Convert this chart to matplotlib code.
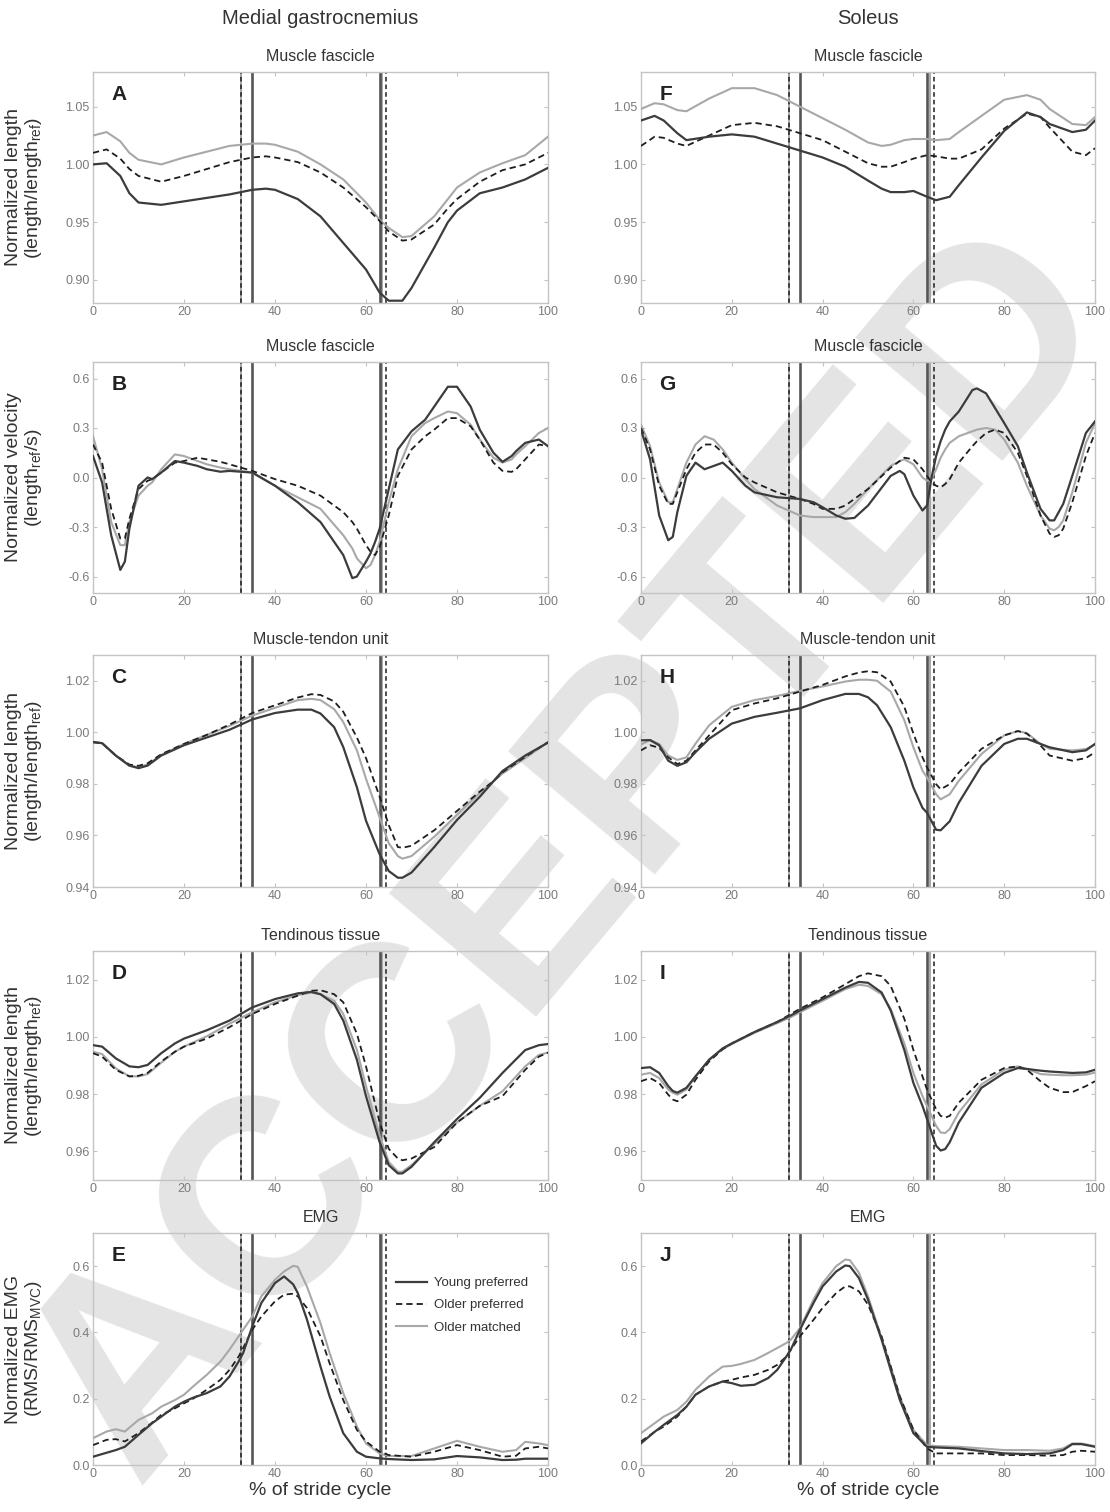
import matplotlib
matplotlib.use("Agg")
import matplotlib.pyplot as plt
from matplotlib.ticker import FormatStrFormatter, FixedLocator

plt.rcParams['font.family'] = ['Liberation Sans', 'DejaVu Sans']
plt.rcParams['axes.unicode_minus'] = False

# ---------------- data (% of stride cycle vs value) ----------------
A_x = [0,3,6,8,10,15,20,25,30,35,38,40,45,50,55,60,63,65,68,70,75,78,80,85,90,95,100]
A_young = [1.000,1.001,0.990,0.975,0.967,0.965,0.968,0.971,0.974,0.978,0.979,0.978,0.970,0.955,0.932,0.909,0.889,0.882,0.882,0.893,0.928,0.950,0.960,0.975,0.980,0.987,0.997]
A_older = [1.010,1.013,1.005,0.996,0.990,0.985,0.990,0.996,1.002,1.006,1.007,1.006,1.002,0.993,0.980,0.963,0.951,0.942,0.934,0.935,0.948,0.962,0.970,0.985,0.995,1.000,1.010]
A_matched = [1.025,1.028,1.020,1.010,1.004,1.000,1.006,1.011,1.016,1.018,1.018,1.017,1.011,1.000,0.987,0.967,0.952,0.945,0.937,0.938,0.955,0.970,0.980,0.993,1.001,1.008,1.024]

F_x = [0,3,5,8,10,15,20,25,30,35,40,45,50,53,55,58,60,63,65,68,70,75,80,85,88,90,95,98,100]
F_young = [1.038,1.042,1.038,1.027,1.021,1.024,1.026,1.024,1.018,1.012,1.006,0.998,0.986,0.979,0.976,0.976,0.977,0.972,0.969,0.972,0.982,1.006,1.029,1.045,1.041,1.035,1.028,1.030,1.038]
F_older = [1.016,1.024,1.023,1.018,1.016,1.025,1.034,1.036,1.033,1.027,1.021,1.011,1.001,0.998,0.998,1.002,1.005,1.008,1.007,1.005,1.005,1.013,1.031,1.044,1.041,1.032,1.011,1.008,1.014]
F_matched = [1.048,1.053,1.052,1.047,1.046,1.057,1.066,1.066,1.060,1.050,1.040,1.030,1.019,1.016,1.017,1.021,1.022,1.022,1.021,1.022,1.028,1.042,1.056,1.060,1.056,1.048,1.035,1.034,1.041]

B_x = [0,2,4,6,7,8,10,12,13,15,18,20,23,25,28,30,35,40,45,50,55,57,58,60,61,62,63,65,67,70,73,75,78,80,83,85,88,90,92,93,95,98,100]
B_young = [0.13,-0.03,-0.35,-0.56,-0.51,-0.31,-0.05,0.00,-0.01,0.03,0.10,0.09,0.07,0.05,0.035,0.04,0.03,-0.05,-0.15,-0.27,-0.47,-0.61,-0.60,-0.51,-0.46,-0.39,-0.31,-0.07,0.17,0.28,0.35,0.43,0.55,0.55,0.43,0.29,0.15,0.095,0.13,0.16,0.21,0.23,0.19]
B_older = [0.20,0.09,-0.19,-0.37,-0.37,-0.25,-0.07,-0.02,-0.01,0.03,0.09,0.10,0.12,0.11,0.095,0.08,0.04,-0.01,-0.05,-0.11,-0.21,-0.27,-0.31,-0.41,-0.45,-0.47,-0.42,-0.23,0.01,0.17,0.25,0.29,0.36,0.36,0.31,0.23,0.09,0.04,0.034,0.05,0.11,0.20,0.19]
B_matched = [0.25,0.05,-0.27,-0.41,-0.41,-0.27,-0.11,-0.05,-0.03,0.05,0.14,0.13,0.10,0.08,0.06,0.05,0.03,-0.05,-0.12,-0.19,-0.35,-0.43,-0.49,-0.55,-0.53,-0.47,-0.39,-0.15,0.05,0.25,0.33,0.36,0.40,0.39,0.32,0.23,0.12,0.09,0.11,0.14,0.19,0.27,0.30]

G_x = [0,2,4,6,7,8,10,12,14,16,18,20,23,25,30,35,38,40,43,45,47,50,55,57,58,60,62,63,64,65,66,67,68,70,73,74,76,78,80,83,85,88,90,91,92,93,95,98,100]
G_young = [0.29,0.11,-0.23,-0.38,-0.36,-0.21,0.01,0.09,0.05,0.07,0.09,0.04,-0.05,-0.09,-0.12,-0.13,-0.15,-0.18,-0.23,-0.25,-0.245,-0.17,0.01,0.04,0.02,-0.11,-0.20,-0.17,0.00,0.13,0.22,0.29,0.34,0.40,0.53,0.54,0.51,0.42,0.33,0.19,0.03,-0.19,-0.26,-0.26,-0.21,-0.16,0.01,0.27,0.34]
G_older = [0.30,0.17,-0.05,-0.16,-0.16,-0.09,0.05,0.15,0.20,0.20,0.15,0.08,0.00,-0.03,-0.09,-0.13,-0.16,-0.19,-0.19,-0.17,-0.13,-0.07,0.06,0.10,0.12,0.11,0.05,0.01,-0.03,-0.05,-0.06,-0.04,-0.01,0.09,0.19,0.22,0.27,0.29,0.27,0.15,0.01,-0.23,-0.34,-0.36,-0.35,-0.31,-0.15,0.13,0.27]
G_matched = [0.32,0.19,-0.03,-0.15,-0.15,-0.07,0.09,0.20,0.25,0.23,0.17,0.09,-0.01,-0.07,-0.17,-0.23,-0.24,-0.24,-0.24,-0.21,-0.16,-0.07,0.07,0.10,0.11,0.08,0.00,-0.02,-0.01,0.05,0.12,0.17,0.21,0.25,0.28,0.29,0.30,0.29,0.23,0.09,-0.05,-0.23,-0.31,-0.32,-0.30,-0.26,-0.09,0.21,0.33]

C_x = [0,2,5,8,10,12,15,20,25,30,35,40,45,48,50,53,55,58,60,62,63,65,67,68,70,75,80,85,88,90,95,100]
C_young = [0.9962,0.9958,0.991,0.9871,0.9861,0.9871,0.991,0.995,0.998,1.001,1.005,1.0075,1.0088,1.0088,1.0073,1.002,0.9943,0.9787,0.9657,0.957,0.9527,0.9462,0.9436,0.9436,0.9456,0.9555,0.966,0.975,0.981,0.985,0.991,0.996]
C_older = [0.9962,0.9958,0.991,0.9875,0.987,0.988,0.9915,0.9955,0.999,1.003,1.0075,1.0105,1.0135,1.0148,1.0145,1.012,1.008,0.998,0.990,0.980,0.975,0.964,0.9555,0.9552,0.956,0.962,0.9695,0.977,0.981,0.9845,0.9905,0.9962]
C_matched = [0.9962,0.9958,0.991,0.987,0.9865,0.9875,0.9912,0.9955,0.999,1.0025,1.0065,1.0095,1.0125,1.013,1.0125,1.009,1.004,0.993,0.982,0.972,0.967,0.957,0.952,0.951,0.952,0.9595,0.968,0.9765,0.981,0.984,0.990,0.9962]

H_x = [0,2,4,6,8,10,12,15,20,25,30,35,40,45,48,50,52,55,58,60,62,63,65,66,68,70,75,80,83,85,88,90,95,98,100]
H_young = [0.9969,0.997,0.995,0.989,0.987,0.9884,0.9923,0.9975,1.0034,1.006,1.0076,1.0093,1.0125,1.0149,1.0149,1.0136,1.0105,1.002,0.989,0.9786,0.9707,0.9688,0.9622,0.962,0.9655,0.9727,0.987,0.9955,0.9975,0.9975,0.9955,0.9942,0.9923,0.993,0.9955]
H_older = [0.993,0.995,0.994,0.9903,0.9877,0.989,0.993,0.9988,1.0086,1.0112,1.0132,1.0158,1.0184,1.0217,1.0232,1.0237,1.0233,1.0197,1.0099,0.9995,0.9903,0.9864,0.9799,0.9779,0.9799,0.9844,0.9936,0.9988,1.0005,0.9995,0.9949,0.991,0.989,0.990,0.9923]
H_matched = [0.9953,0.997,0.9955,0.991,0.9893,0.9903,0.9956,1.0027,1.0099,1.0125,1.0141,1.0161,1.0178,1.0197,1.0204,1.0204,1.020,1.0158,1.0047,0.9942,0.9851,0.9825,0.976,0.974,0.976,0.9812,0.9916,0.9988,1.0005,0.9997,0.9955,0.9936,0.993,0.9935,0.9953]

D_x = [0,2,5,8,10,12,15,18,20,25,30,35,40,45,48,50,53,55,58,60,63,65,67,68,70,75,80,85,90,95,98,100]
D_young = [0.9971,0.9966,0.9925,0.9897,0.9894,0.9902,0.9943,0.9977,0.9994,1.0023,1.0057,1.0103,1.0132,1.0152,1.0157,1.0149,1.0115,1.0057,0.992,0.9793,0.9632,0.9552,0.9523,0.9523,0.9546,0.9632,0.9713,0.9787,0.9874,0.9954,0.9971,0.9975]
D_older = [0.9943,0.9931,0.9885,0.9862,0.9864,0.9874,0.9914,0.9948,0.9966,0.9994,1.0034,1.008,1.0115,1.0144,1.0161,1.0163,1.0149,1.0121,1.0011,0.9897,0.9701,0.9609,0.9575,0.9569,0.9575,0.9615,0.9701,0.9759,0.9793,0.9885,0.9931,0.9945]
D_matched = [0.9948,0.994,0.989,0.9862,0.9862,0.987,0.991,0.9948,0.9966,1.0002,1.0046,1.0086,1.0121,1.0146,1.0155,1.0149,1.0126,1.008,0.9954,0.9828,0.9655,0.9563,0.9529,0.9529,0.9552,0.9626,0.9701,0.9759,0.981,0.9897,0.9937,0.9945]

I_x = [0,2,4,6,7,8,10,12,15,18,20,25,30,33,35,40,45,48,50,53,55,58,60,62,63,65,66,67,68,70,75,80,83,85,88,90,93,95,98,100]
I_young = [0.9891,0.9894,0.9874,0.9828,0.9811,0.9805,0.9822,0.9862,0.992,0.996,0.9977,1.0017,1.0052,1.0075,1.0092,1.0132,1.0172,1.0192,1.0189,1.0155,1.0092,0.9954,0.9839,0.9759,0.9713,0.962,0.9603,0.9608,0.9632,0.9701,0.9822,0.9874,0.9891,0.9888,0.9882,0.9879,0.9876,0.9874,0.9876,0.9885]
I_older = [0.9845,0.9856,0.9839,0.9798,0.9781,0.9775,0.9798,0.985,0.9914,0.9957,0.9977,1.0017,1.0052,1.008,1.0098,1.0138,1.0184,1.0212,1.0222,1.0212,1.0178,1.0063,0.9954,0.9862,0.9816,0.9747,0.9724,0.9718,0.9724,0.977,0.985,0.9891,0.9897,0.9885,0.9845,0.9822,0.9807,0.9807,0.9828,0.9845]
I_matched = [0.9868,0.9874,0.9856,0.9816,0.9805,0.9798,0.9816,0.9862,0.992,0.9957,0.9975,1.0014,1.0048,1.0069,1.0086,1.0126,1.0167,1.0182,1.0178,1.0149,1.0098,0.9977,0.9874,0.9793,0.9759,0.9689,0.9666,0.9664,0.9678,0.9736,0.9834,0.9885,0.9897,0.9888,0.9870,0.9868,0.9866,0.9866,0.9868,0.9875]

E_x = [0,3,5,7,10,13,15,18,20,22,25,28,30,32,33,35,37,40,42,44,45,47,50,52,55,58,60,63,65,70,75,80,85,90,93,95,98,100]
E_young = [0.025,0.037,0.045,0.055,0.091,0.126,0.146,0.176,0.191,0.203,0.217,0.237,0.267,0.312,0.338,0.418,0.489,0.549,0.569,0.545,0.519,0.440,0.297,0.207,0.096,0.040,0.025,0.020,0.018,0.015,0.017,0.027,0.023,0.015,0.016,0.019,0.019,0.019]
E_older = [0.060,0.076,0.078,0.071,0.096,0.128,0.151,0.171,0.186,0.200,0.227,0.257,0.287,0.327,0.353,0.408,0.448,0.494,0.514,0.517,0.509,0.474,0.388,0.307,0.196,0.106,0.071,0.040,0.030,0.025,0.040,0.060,0.045,0.025,0.028,0.050,0.055,0.050]
E_matched = [0.081,0.101,0.108,0.101,0.136,0.156,0.176,0.196,0.212,0.237,0.272,0.312,0.348,0.388,0.408,0.448,0.509,0.559,0.584,0.601,0.598,0.539,0.428,0.338,0.217,0.116,0.065,0.035,0.027,0.027,0.050,0.073,0.055,0.040,0.045,0.070,0.065,0.060]

J_x = [0,3,5,8,10,12,15,18,20,22,25,28,30,32,33,35,38,40,43,45,46,48,50,53,55,57,60,63,65,70,75,80,85,90,93,95,97,100]
J_young = [0.0655,0.100,0.121,0.151,0.176,0.212,0.237,0.252,0.247,0.239,0.242,0.262,0.287,0.327,0.348,0.408,0.489,0.539,0.584,0.602,0.600,0.564,0.499,0.378,0.287,0.197,0.096,0.055,0.053,0.050,0.042,0.035,0.033,0.035,0.045,0.063,0.063,0.055]
J_older = [0.071,0.100,0.116,0.146,0.176,0.212,0.237,0.252,0.257,0.264,0.272,0.287,0.302,0.327,0.348,0.388,0.438,0.474,0.519,0.539,0.539,0.524,0.484,0.388,0.297,0.207,0.106,0.050,0.035,0.035,0.035,0.030,0.030,0.028,0.030,0.040,0.043,0.040]
J_matched = [0.096,0.126,0.146,0.166,0.191,0.227,0.267,0.297,0.299,0.305,0.317,0.338,0.353,0.368,0.378,0.413,0.499,0.549,0.600,0.620,0.618,0.580,0.509,0.383,0.297,0.207,0.106,0.060,0.057,0.055,0.050,0.045,0.045,0.043,0.050,0.065,0.065,0.057]

# gait events (% stride): foot events for each group
young_events = [35.0, 63.0]
older_events = [32.5, 64.5]
matched_events = [32.6, 63.6]

col_titles = ["Medial gastrocnemius", "Soleus"]
row_titles = ["Muscle fascicle", "Muscle fascicle", "Muscle-tendon unit", "Tendinous tissue", "EMG"]
ylabels = ["Normalized length\n(length/length$_{\\mathregular{ref}}$)",
           "Normalized velocity\n(length$_{\\mathregular{ref}}$/s)",
           "Normalized length\n(length/length$_{\\mathregular{ref}}$)",
           "Normalized length\n(length/length$_{\\mathregular{ref}}$)",
           "Normalized EMG\n(RMS/RMS$_{\\mathregular{MVC}}$)"]
ylims = [(0.88, 1.08), (-0.7, 0.7), (0.94, 1.03), (0.95, 1.03), (0.0, 0.7)]
yticks = [[0.90, 0.95, 1.00, 1.05], [-0.6, -0.3, 0.0, 0.3, 0.6],
          [0.94, 0.96, 0.98, 1.00, 1.02], [0.96, 0.98, 1.00, 1.02], [0.0, 0.2, 0.4, 0.6]]
yfmts = ['%.2f', '%.1f', '%.2f', '%.2f', '%.1f']
xticks = [0, 20, 40, 60, 80, 100]
legend_labels = ["Young preferred", "Older preferred", "Older matched"]

left_panels = [("A", A_x, A_young, A_older, A_matched), ("B", B_x, B_young, B_older, B_matched),
               ("C", C_x, C_young, C_older, C_matched), ("D", D_x, D_young, D_older, D_matched),
               ("E", E_x, E_young, E_older, E_matched)]
right_panels = [("F", F_x, F_young, F_older, F_matched), ("G", G_x, G_young, G_older, G_matched),
                ("H", H_x, H_young, H_older, H_matched), ("I", I_x, I_young, I_older, I_matched),
                ("J", J_x, J_young, J_older, J_matched)]

# ---------------- styling ----------------
C_YOUNG = '#3c3c3c'
C_OLDER = '#1e1e1e'
C_MATCH = '#a8a8a8'
SPINE = '#c4c4c4'
TICKLAB = '#7a7a7a'

fig = plt.figure(figsize=(11.10, 15.12), dpi=100)

# watermark
fig.text(0.515, 0.435, "ACCEPTED", fontsize=200, fontweight='bold', color='#e4e4e4',
         rotation=50, ha='center', va='center', zorder=-5)

W = 1110.0
H = 1512.0
col_left = [93, 641]
col_width = [455, 454]
row_top = [72, 362, 655, 951, 1233]
row_bot = [303, 593, 887, 1180, 1465]

for c, panels in enumerate([left_panels, right_panels]):
    for r, (letter, xs, yy, yo, ym) in enumerate(panels):
        ax = fig.add_axes([col_left[c] / W, 1 - row_bot[r] / H,
                           col_width[c] / W, (row_bot[r] - row_top[r]) / H])
        ax.set_facecolor('none')
        for ev in matched_events:
            ax.axvline(ev, color=C_MATCH, lw=1.4, zorder=1)
        for ev in young_events:
            ax.axvline(ev, color='#555555', lw=1.9, zorder=1)
        for ev in older_events:
            ax.axvline(ev, color=C_OLDER, lw=1.1, ls=(0, (3, 2)), zorder=1)
        l3, = ax.plot(xs, ym, color=C_MATCH, lw=1.5, zorder=3)
        l2, = ax.plot(xs, yo, color=C_OLDER, lw=1.3, ls=(0, (3.5, 2.2)), zorder=4)
        l1, = ax.plot(xs, yy, color=C_YOUNG, lw=1.6, zorder=5)
        ax.set_xlim(0, 100)
        ax.set_ylim(*ylims[r])
        ax.xaxis.set_major_locator(FixedLocator(xticks))
        ax.yaxis.set_major_locator(FixedLocator(yticks[r]))
        ax.yaxis.set_major_formatter(FormatStrFormatter(yfmts[r]))
        ax.tick_params(direction='in', length=3, width=0.8, color=SPINE,
                       labelsize=9, labelcolor=TICKLAB, top=True, right=True, pad=2.5)
        for s in ax.spines.values():
            s.set_color(SPINE)
            s.set_linewidth(1.0)
        ax.set_title(row_titles[r], fontsize=11.5, color='#333333', pad=8)
        ax.text(0.04, 0.945, letter, transform=ax.transAxes, fontsize=15,
                fontweight='bold', color='#222222', ha='left', va='top')
        if c == 0:
            ax.set_ylabel(ylabels[r], fontsize=14, color='#333333', linespacing=1.05)
            ax.yaxis.set_label_coords(-0.108, 0.5)
        if r == 4:
            ax.set_xlabel("% of stride cycle", fontsize=14, color='#333333', labelpad=1)
        if c == 0 and r == 4:
            ax.legend([l1, l2, l3], legend_labels, loc='upper left',
                      bbox_to_anchor=(0.665, 0.81), frameon=False, fontsize=9.5,
                      handlelength=2.4, handletextpad=0.5, labelspacing=0.75,
                      borderpad=0, borderaxespad=0, labelcolor='#333333')
        if r == 0:
            fig.text((col_left[c] + col_width[c] / 2) / W, 1 - 18 / H, col_titles[c],
                     fontsize=14.5, color='#333333', ha='center', va='center')

fig.savefig("out.png", dpi=100)
